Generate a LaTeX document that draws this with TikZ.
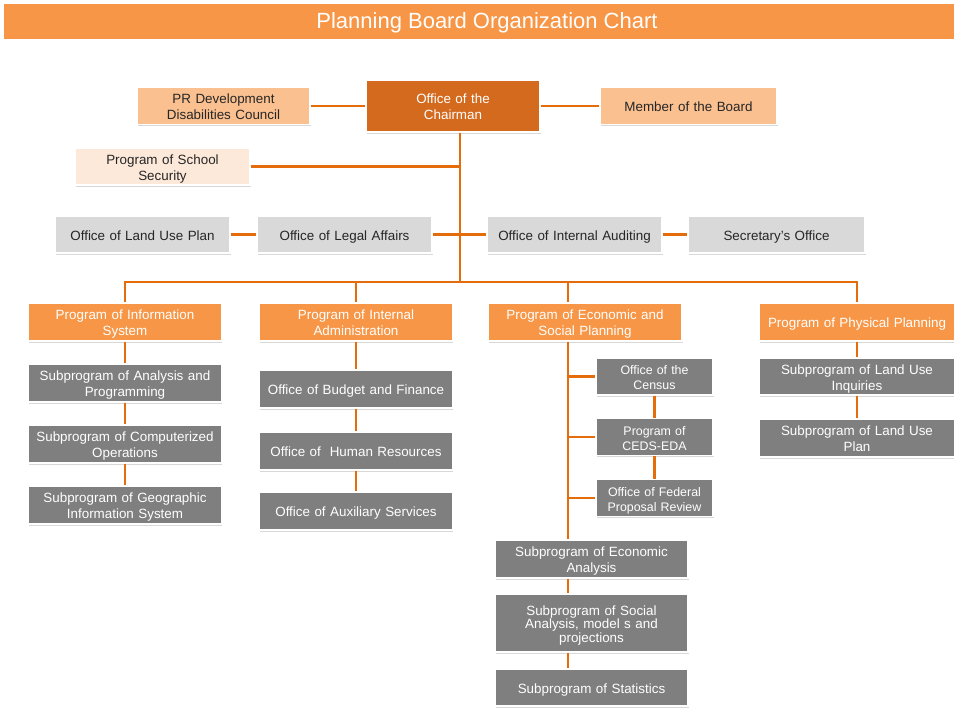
\documentclass[tikz,border=0pt]{standalone}
\usepackage{fontspec}
\setmainfont{Liberation Sans}
\usepackage{tikz}
\usetikzlibrary{shadows}
\usepackage{xcolor}
\definecolor{titleorange}{HTML}{F79646}
\definecolor{chairorange}{HTML}{D46A1E}
\definecolor{paleorange}{HTML}{FAC090}
\definecolor{paleorangeb}{HTML}{FDE9D9}
\definecolor{lightgray}{HTML}{D9D9D9}
\definecolor{darkgray}{HTML}{7F7F7F}
\definecolor{linkorange}{HTML}{E46C0A}
\definecolor{darktext}{HTML}{262626}
\newcommand{\topstrut}{\rule{0pt}{14.4pt}}
\newcommand{\botstrut}{\rule[-3pt]{0pt}{3pt}}

\begin{document}
\begin{tikzpicture}[x=1pt, y=-1pt,
	box/.style={rectangle, draw=white, line width=1.2pt, inner sep=0pt, align=center,
		font=\fontsize{13.4}{16}\selectfont,
		execute at begin node=\topstrut, execute at end node=\botstrut,
		drop shadow={shadow xshift=0.6pt, shadow yshift=-1.8pt, opacity=0.3}},
	chairbox/.style={box, fill=chairorange, text=white, text width=170pt, minimum width=174pt, minimum height=52pt},
	palebox/.style={box, fill=paleorange, text=darktext, text width=170pt, minimum width=175pt, minimum height=37pt},
	greybox/.style={box, fill=lightgray, text=darktext, text width=170pt, minimum width=175pt, minimum height=37pt},
	progbox/.style={box, fill=titleorange, text=white, text width=190pt, minimum width=193pt, minimum height=38pt},
	subbox/.style={box, fill=darkgray, text=white, text width=190pt, minimum width=193pt, minimum height=38pt},
	smallbox/.style={subbox, text width=115pt, minimum width=117pt, minimum height=37pt, font=\fontsize{12.4}{15}\selectfont},
	link/.style={draw=linkorange, line width=2.4pt}]
				\useasboundingbox (0,0) rectangle (954,711);
				\fill[white] (0,0) rectangle (954,711);
				% title bar
				\fill[titleorange] (4,4) rectangle (954,39);
				\node[text=white, inner sep=0pt, font=\fontsize{22}{26}\selectfont] (title) at (487,23) {Planning Board Organization Chart};
				% top level
				\node[chairbox] (chair) at (453,106) {Office of the\\Chairman};
				\node[palebox, minimum width=173pt] (prdev) at (223.5,106) {PR Development\\Disabilities Council};
				\node[palebox, minimum width=177pt] (member) at (688.5,106) {Member of the Board};
				\node[palebox, fill=paleorangeb] (school) at (162.5,166.5) {Program of School\\Security};
				\node[greybox] (landuse) at (142.5,234.5) {Office of Land Use Plan};
				\node[greybox] (legal) at (344.5,234.5) {Office of Legal Affairs};
				\node[greybox] (audit) at (574.5,234.5) {Office of Internal Auditing};
				\node[greybox, minimum width=177pt] (secretary) at (776.5,234.5) {Secretary’s Office};
				% programs
				\node[progbox] (info) at (125,322) {Program of Information\\System};
				\node[progbox] (admin) at (356,322) {Program of Internal\\Administration};
				\node[progbox, minimum width=194pt] (econ) at (585,322) {Program of Economic and\\Social Planning};
				\node[progbox, minimum width=196pt] (physical) at (857,322) {Program of Physical Planning};
				% information system
				\node[subbox] (analysis) at (125,383) {Subprogram of Analysis and\\Programming};
				\node[subbox] (computer) at (125,444) {Subprogram of Computerized\\Operations};
				\node[subbox] (geographic) at (125,505) {Subprogram of Geographic\\Information System};
				% internal administration
				\node[subbox] (budget) at (356,389) {Office of Budget and Finance};
				\node[subbox] (human) at (356,451) {Office of~ Human Resources};
				\node[subbox] (auxiliary) at (356,511) {Office of Auxiliary Services};
				% economic and social planning
				\node[smallbox] (census) at (654.5,376.5) {Office of the\\Census};
				\node[smallbox] (ceds) at (654.5,437) {Program of\\CEDS-EDA};
				\node[smallbox] (federal) at (654.5,498) {Office of Federal\\Proposal Review};
				\node[subbox] (econan) at (591.5,559) {Subprogram of Economic\\Analysis};
				\node[subbox, minimum height=58pt, font=\fontsize{13.4}{13.6}\selectfont] (social) at (591.5,623) {Subprogram of Social\\Analysis, model s and\\projections};
				\node[subbox, minimum height=37pt] (stats) at (591.5,687.5) {Subprogram of Statistics};
				% physical planning
				\node[subbox, minimum width=196pt, minimum height=37pt] (inquiries) at (857,376.5) {Subprogram of Land Use\\Inquiries};
				\node[subbox, minimum width=196pt] (landplan) at (857,438) {Subprogram of Land Use\\Plan};
				% connectors
				\coordinate (trunk) at (460,282);
				\coordinate (econx) at (568,282);
				\draw[link] (prdev) -- (chair);
				\draw[link] (chair) -- (member);
				\draw[link] (chair.south -| trunk) -- (trunk);
				\draw[link] (school.east) -- (school.east -| trunk);
				\draw[link] (landuse) -- (legal);
				\draw[link] (legal) -- (audit);
				\draw[link] (audit) -- (secretary);
				\draw[link] (info.north) |- (trunk) -| (physical.north);
				\draw[link] (trunk -| admin.north) -- (admin.north);
				\draw[link] (econx) -- (econ.north -| econx);
				\draw[link] (info) -- (analysis);
				\draw[link] (analysis) -- (computer);
				\draw[link] (computer) -- (geographic);
				\draw[link] (admin) -- (budget);
				\draw[link] (budget) -- (human);
				\draw[link] (human) -- (auxiliary);
				\draw[link] (econ.south -| econx) -- (econan.north -| econx);
				\draw[link] (census.west -| econx) -- (census.west);
				\draw[link] (ceds.west -| econx) -- (ceds.west);
				\draw[link] (federal.west -| econx) -- (federal.west);
				\draw[link] (census) -- (ceds);
				\draw[link] (ceds) -- (federal);
				\draw[link] (econan.south -| econx) -- (social.north -| econx);
				\draw[link] (social.south -| econx) -- (stats.north -| econx);
				\draw[link] (physical) -- (inquiries);
				\draw[link] (inquiries) -- (landplan);
			\end{tikzpicture}
\end{document}
